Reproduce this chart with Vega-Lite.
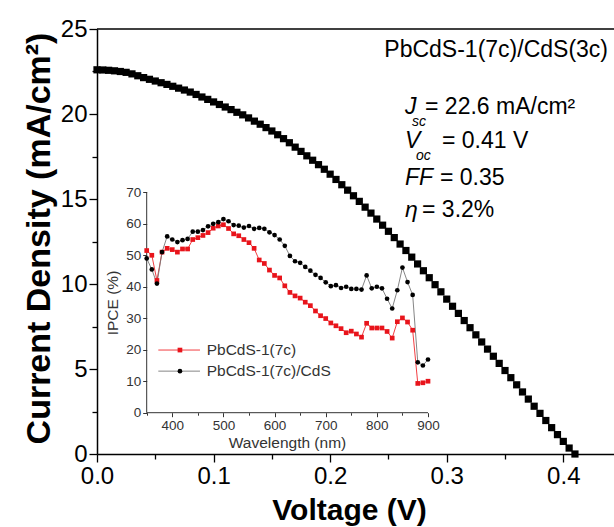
{
  "$schema": "https://vega.github.io/schema/vega-lite/v6.json",
  "width": 517,
  "height": 425,
  "autosize": {"type": "none"},
  "padding": {"left": 97, "top": 29, "right": 0, "bottom": 73},
  "background": "white",
  "config": {"font": "Liberation Sans", "view": {"stroke": null}},
  "resolve": {"scale": {"x": "independent", "y": "independent"}, "axis": {"x": "independent", "y": "independent"}},
  "layer": [
    {
      "data": {"values": [
        {"wl":350,"a":51.5,"b":49.0},{"wl":360,"a":50.0,"b":45.5},{"wl":370,"a":42.0,"b":41.0},{"wl":380,"a":51.0,"b":51.0},
        {"wl":390,"a":52.2,"b":56.0},{"wl":400,"a":51.8,"b":55.0},{"wl":410,"a":51.0,"b":54.2},{"wl":420,"a":52.0,"b":54.8},
        {"wl":430,"a":52.0,"b":55.2},{"wl":440,"a":55.0,"b":57.5},{"wl":450,"a":55.6,"b":57.5},{"wl":460,"a":56.3,"b":58.0},
        {"wl":470,"a":57.2,"b":59.2},{"wl":480,"a":58.6,"b":60.0},{"wl":490,"a":59.3,"b":60.5},{"wl":500,"a":59.7,"b":61.5},
        {"wl":510,"a":58.5,"b":60.8},{"wl":520,"a":56.8,"b":59.6},{"wl":530,"a":56.2,"b":59.4},{"wl":540,"a":55.0,"b":58.8},
        {"wl":550,"a":54.0,"b":59.3},{"wl":560,"a":52.2,"b":58.4},{"wl":570,"a":48.5,"b":58.7},{"wl":580,"a":47.4,"b":58.4},
        {"wl":590,"a":45.3,"b":57.3},{"wl":600,"a":43.6,"b":56.4},{"wl":610,"a":42.8,"b":55.0},{"wl":620,"a":40.3,"b":53.0},
        {"wl":630,"a":38.2,"b":49.8},{"wl":640,"a":37.1,"b":48.1},{"wl":650,"a":36.4,"b":47.6},{"wl":660,"a":35.1,"b":46.3},
        {"wl":670,"a":34.0,"b":45.1},{"wl":680,"a":32.3,"b":43.8},{"wl":690,"a":30.8,"b":42.8},{"wl":700,"a":29.9,"b":41.4},
        {"wl":710,"a":28.5,"b":40.2},{"wl":720,"a":27.6,"b":40.5},{"wl":730,"a":26.7,"b":39.6},{"wl":740,"a":25.4,"b":40.0},
        {"wl":750,"a":25.9,"b":39.3},{"wl":760,"a":25.0,"b":39.3},{"wl":770,"a":24.0,"b":39.1},{"wl":780,"a":28.4,"b":43.6},
        {"wl":790,"a":26.9,"b":39.5},{"wl":800,"a":26.9,"b":40.0},{"wl":810,"a":26.9,"b":39.5},{"wl":820,"a":25.8,"b":36.2},
        {"wl":830,"a":23.7,"b":33.1},{"wl":840,"a":28.9,"b":38.9},{"wl":850,"a":30.1,"b":46.1},{"wl":860,"a":28.8,"b":41.5},
        {"wl":870,"a":26.2,"b":37.4},{"wl":880,"a":9.3,"b":16.0},{"wl":890,"a":9.5,"b":15.0},{"wl":900,"a":10.0,"b":16.9}
      ]},
      "transform": [{"fold": ["a", "b"], "as": ["s", "ipce"]}],
      "resolve": {"scale": {"color": "independent"}},
      "layer": [
        {
          "data": {"values": [{}]},
          "mark": {"type": "rule", "color": "#333333", "strokeWidth": 1},
          "encoding": {"x": {"datum": 350}, "x2": {"datum": 900}, "y": {"datum": 0}}
        },
        {
          "data": {"values": [{}]},
          "mark": {"type": "rule", "color": "#333333", "strokeWidth": 1},
          "encoding": {"x": {"datum": 350}, "y": {"datum": 0}, "y2": {"datum": 70}}
        },
        {
          "mark": {"type": "line", "strokeWidth": 0.9},
          "encoding": {
            "x": {"field": "wl", "type": "quantitative",
              "scale": {"domain": [252.82, 1263.67], "nice": false, "zero": false},
              "axis": {"orient": "bottom", "offset": -41.3, "domain": false, "grid": false,
                "values": [350,400,450,500,550,600,650,700,750,800,850,900],
                "labelExpr": "datum.value % 100 == 0 ? format(datum.value, 'd') : ''",
                "tickSize": {"condition": {"test": "datum.value % 100 == 0", "value": 4}, "value": 2.5},
                "tickColor": "#333333", "labelColor": "#333333", "labelFontSize": 13.5, "labelPadding": 2,
                "title": "Wavelength (nm)", "titleFontSize": 15.5, "titleFontWeight": "normal", "titleColor": "#333333",
                "titleX": 190, "titleY": 29.5, "titleBaseline": "middle", "titleAlign": "center"}},
            "y": {"field": "ipce", "type": "quantitative",
              "scale": {"domain": [-13.117, 121.865], "nice": false, "zero": false},
              "axis": {"orient": "left", "offset": -49.7, "domain": false, "grid": false,
                "values": [0,5,10,15,20,25,30,35,40,45,50,55,60,65,70],
                "labelExpr": "datum.value % 10 == 0 ? format(datum.value, 'd') : ''",
                "tickSize": {"condition": {"test": "datum.value % 10 == 0", "value": 4}, "value": 2.5},
                "tickColor": "#333333", "labelColor": "#333333", "labelFontSize": 13.5, "labelPadding": 2,
                "title": "IPCE (%)", "titleFontSize": 15.5, "titleFontWeight": "normal", "titleColor": "#333333",
                "titleX": -34, "titleY": 273.5, "titleBaseline": "middle", "titleAlign": "center", "titleAngle": -90}},
            "color": {"field": "s", "type": "nominal", "scale": {"domain": ["a", "b"], "range": ["#f0282d", "#777777"]}, "legend": null},
            "detail": {"field": "s"}
          }
        },
        {
          "mark": {"type": "point", "filled": true, "opacity": 1, "size": 22},
          "encoding": {
            "x": {"field": "wl", "type": "quantitative"},
            "y": {"field": "ipce", "type": "quantitative"},
            "color": {"field": "s", "type": "nominal", "scale": {"domain": ["a", "b"], "range": ["#e8141b", "#000000"]}, "legend": null},
            "shape": {"field": "s", "type": "nominal", "scale": {"domain": ["a", "b"], "range": ["square", "circle"]}, "legend": null}
          }
        },
        {
          "data": {"values": [{}]},
          "mark": {"type": "rule", "color": "#f0282d", "strokeWidth": 0.9},
          "encoding": {"x": {"datum": 372.7}, "x2": {"datum": 454.2}, "y": {"datum": 19.9}}
        },
        {
          "data": {"values": [{}]},
          "mark": {"type": "point", "shape": "square", "filled": true, "opacity": 1, "size": 22, "color": "#e8141b"},
          "encoding": {"x": {"datum": 415}, "y": {"datum": 19.9}}
        },
        {
          "data": {"values": [{}]},
          "mark": {"type": "text", "text": "PbCdS-1(7c)", "align": "left", "baseline": "middle", "fontSize": 15.5, "color": "#333333"},
          "encoding": {"x": {"datum": 467.3}, "y": {"datum": 19.9}}
        },
        {
          "data": {"values": [{}]},
          "mark": {"type": "rule", "color": "#777777", "strokeWidth": 0.9},
          "encoding": {"x": {"datum": 372.7}, "x2": {"datum": 454.2}, "y": {"datum": 13.2}}
        },
        {
          "data": {"values": [{}]},
          "mark": {"type": "point", "shape": "circle", "filled": true, "opacity": 1, "size": 22, "color": "#000000"},
          "encoding": {"x": {"datum": 415}, "y": {"datum": 13.2}}
        },
        {
          "data": {"values": [{}]},
          "mark": {"type": "text", "text": "PbCdS-1(7c)/CdS", "align": "left", "baseline": "middle", "fontSize": 15.5, "color": "#333333"},
          "encoding": {"x": {"datum": 467.3}, "y": {"datum": 13.2}}
        }
      ]
    },
    {
      "layer": [
        {
          "data": {"values": [
            {"V":0.000,"J":22.60},{"V":0.005,"J":22.59},{"V":0.010,"J":22.57},{"V":0.015,"J":22.54},{"V":0.020,"J":22.50},
            {"V":0.025,"J":22.45},{"V":0.030,"J":22.36},{"V":0.035,"J":22.25},{"V":0.040,"J":22.14},{"V":0.045,"J":22.04},
            {"V":0.050,"J":21.94},{"V":0.055,"J":21.84},{"V":0.060,"J":21.74},{"V":0.065,"J":21.63},{"V":0.070,"J":21.52},
            {"V":0.075,"J":21.41},{"V":0.080,"J":21.29},{"V":0.085,"J":21.15},{"V":0.090,"J":21.00},{"V":0.095,"J":20.86},
            {"V":0.100,"J":20.71},{"V":0.105,"J":20.56},{"V":0.110,"J":20.41},{"V":0.115,"J":20.26},{"V":0.120,"J":20.10},
            {"V":0.125,"J":19.95},{"V":0.130,"J":19.77},{"V":0.135,"J":19.58},{"V":0.140,"J":19.40},{"V":0.145,"J":19.20},
            {"V":0.150,"J":19.00},{"V":0.155,"J":18.78},{"V":0.160,"J":18.55},{"V":0.165,"J":18.31},{"V":0.170,"J":18.05},
            {"V":0.175,"J":17.80},{"V":0.180,"J":17.54},{"V":0.185,"J":17.28},{"V":0.190,"J":17.02},{"V":0.195,"J":16.75},
            {"V":0.200,"J":16.46},{"V":0.205,"J":16.15},{"V":0.210,"J":15.84},{"V":0.215,"J":15.52},{"V":0.220,"J":15.19},
            {"V":0.225,"J":14.86},{"V":0.230,"J":14.52},{"V":0.235,"J":14.17},{"V":0.240,"J":13.82},{"V":0.245,"J":13.46},
            {"V":0.250,"J":13.10},{"V":0.255,"J":12.73},{"V":0.260,"J":12.35},{"V":0.265,"J":11.97},{"V":0.270,"J":11.58},
            {"V":0.275,"J":11.18},{"V":0.280,"J":10.78},{"V":0.285,"J":10.37},{"V":0.290,"J":9.96},{"V":0.295,"J":9.54},
            {"V":0.300,"J":9.11},{"V":0.305,"J":8.69},{"V":0.310,"J":8.27},{"V":0.315,"J":7.85},{"V":0.320,"J":7.43},
            {"V":0.325,"J":7.01},{"V":0.330,"J":6.59},{"V":0.335,"J":6.17},{"V":0.340,"J":5.75},{"V":0.345,"J":5.33},
            {"V":0.350,"J":4.91},{"V":0.355,"J":4.49},{"V":0.360,"J":4.07},{"V":0.365,"J":3.65},{"V":0.370,"J":3.23},
            {"V":0.375,"J":2.81},{"V":0.380,"J":2.39},{"V":0.385,"J":1.97},{"V":0.390,"J":1.55},{"V":0.395,"J":1.14},
            {"V":0.400,"J":0.74},{"V":0.405,"J":0.35},{"V":0.410,"J":0.00}
          ]},
          "mark": {"type": "point", "shape": "square", "filled": true, "opacity": 1, "size": 52, "color": "#000000"},
          "encoding": {
            "x": {"field": "V", "type": "quantitative",
              "scale": {"domain": [0, 0.44349], "nice": false, "zero": false},
              "axis": {"orient": "bottom", "grid": false, "domainColor": "#000000", "domainWidth": 1.5,
                "values": [0,0.05,0.1,0.15,0.2,0.25,0.3,0.35,0.4],
                "labelExpr": "round(datum.value * 100) % 10 == 0 ? format(datum.value, '.1f') : ''",
                "tickSize": {"condition": {"test": "round(datum.value * 100) % 10 == 0", "value": 8}, "value": 5},
                "tickColor": "#000000", "tickWidth": 1.3, "labelColor": "#000000", "labelFontSize": 24, "labelPadding": 2,
                "labelFlush": false,
                "title": "Voltage (V)", "titleFontSize": 30, "titleFontWeight": "bold", "titleColor": "#000000",
                "titleX": 252, "titleY": 65, "titleBaseline": "alphabetic", "titleAlign": "center"}},
            "y": {"field": "J", "type": "quantitative",
              "scale": {"domain": [0, 25], "nice": false, "zero": false},
              "axis": {"orient": "left", "grid": false, "domainColor": "#000000", "domainWidth": 1.5,
                "values": [0,2.5,5,7.5,10,12.5,15,17.5,20,22.5,25],
                "labelExpr": "datum.value % 5 == 0 ? format(datum.value, 'd') : ''",
                "tickSize": {"condition": {"test": "datum.value % 5 == 0", "value": 8}, "value": 5},
                "tickColor": "#000000", "tickWidth": 1.3, "labelColor": "#000000", "labelFontSize": 24, "labelPadding": 2,
                "labelFlush": false,
                "title": "Current Density (mA/cm²)", "titleFontSize": 34, "titleFontWeight": "bold", "titleColor": "#000000",
                "titleX": -58, "titleY": 209, "titleBaseline": "middle", "titleAlign": "center", "titleAngle": -90}}
          }
        },
        {
          "data": {"values": [{}]},
          "mark": {"type": "rule", "color": "#000000", "strokeWidth": 1.5},
          "encoding": {"y": {"datum": 25}}
        },
        {
          "data": {"values": [{}]},
          "mark": {"type": "text", "text": "PbCdS-1(7c)/CdS(3c)", "align": "right", "baseline": "alphabetic", "fontSize": 23, "color": "#000000"},
          "encoding": {"x": {"datum": 0.43834}, "y": {"datum": 23.37}}
        },
        {
          "data": {"values": [{}]},
          "mark": {"type": "text", "text": "J", "align": "left", "baseline": "alphabetic", "fontSize": 23, "fontStyle": "italic", "color": "#000000"},
          "encoding": {"x": {"datum": 0.2642}, "y": {"datum": 20.0}}
        },
        {
          "data": {"values": [{}]},
          "mark": {"type": "text", "text": "sc", "align": "left", "baseline": "alphabetic", "fontSize": 14, "fontStyle": "italic", "color": "#000000"},
          "encoding": {"x": {"datum": 0.2702}, "y": {"datum": 19.3}}
        },
        {
          "data": {"values": [{}]},
          "mark": {"type": "text", "text": "= 22.6 mA/cm²", "align": "left", "baseline": "alphabetic", "fontSize": 23, "color": "#000000"},
          "encoding": {"x": {"datum": 0.2814}, "y": {"datum": 20.0}}
        },
        {
          "data": {"values": [{}]},
          "mark": {"type": "text", "text": "V", "align": "left", "baseline": "alphabetic", "fontSize": 23, "fontStyle": "italic", "color": "#000000"},
          "encoding": {"x": {"datum": 0.2642}, "y": {"datum": 18.0}}
        },
        {
          "data": {"values": [{}]},
          "mark": {"type": "text", "text": "oc", "align": "left", "baseline": "alphabetic", "fontSize": 14, "fontStyle": "italic", "color": "#000000"},
          "encoding": {"x": {"datum": 0.2736}, "y": {"datum": 17.28}}
        },
        {
          "data": {"values": [{}]},
          "mark": {"type": "text", "text": "= 0.41 V", "align": "left", "baseline": "alphabetic", "fontSize": 23, "color": "#000000"},
          "encoding": {"x": {"datum": 0.2959}, "y": {"datum": 18.0}}
        },
        {
          "data": {"values": [{}]},
          "mark": {"type": "text", "text": "FF", "align": "left", "baseline": "alphabetic", "fontSize": 23, "fontStyle": "italic", "color": "#000000"},
          "encoding": {"x": {"datum": 0.2642}, "y": {"datum": 15.82}}
        },
        {
          "data": {"values": [{}]},
          "mark": {"type": "text", "text": "= 0.35", "align": "left", "baseline": "alphabetic", "fontSize": 23, "color": "#000000"},
          "encoding": {"x": {"datum": 0.2942}, "y": {"datum": 15.82}}
        },
        {
          "data": {"values": [{}]},
          "mark": {"type": "text", "text": "η", "align": "left", "baseline": "alphabetic", "fontSize": 23, "fontStyle": "italic", "color": "#000000"},
          "encoding": {"x": {"datum": 0.2642}, "y": {"datum": 13.96}}
        },
        {
          "data": {"values": [{}]},
          "mark": {"type": "text", "text": "= 3.2%", "align": "left", "baseline": "alphabetic", "fontSize": 23, "color": "#000000"},
          "encoding": {"x": {"datum": 0.2788}, "y": {"datum": 13.96}}
        }
      ]
    }
  ]
}
